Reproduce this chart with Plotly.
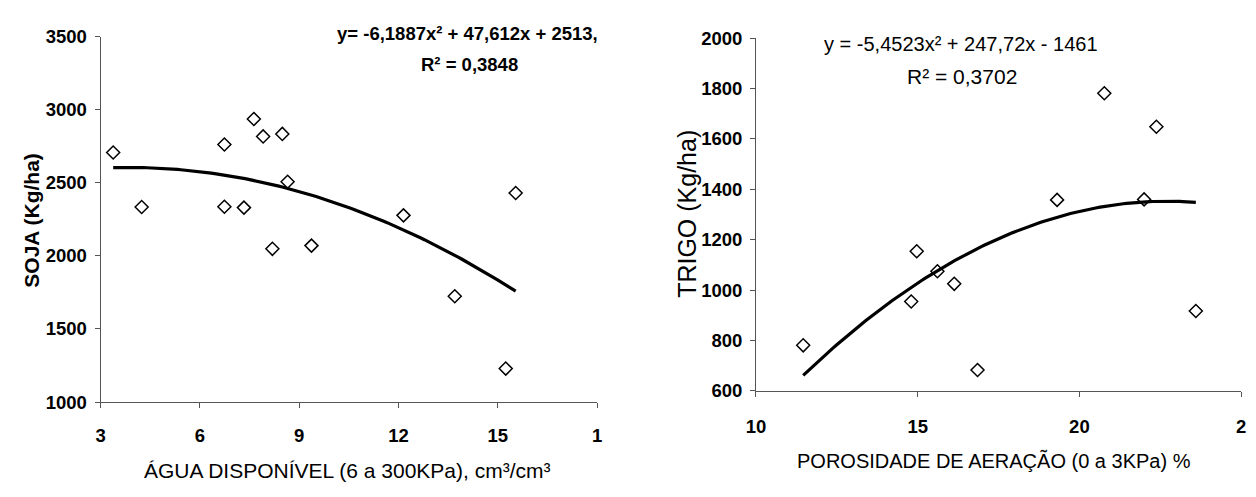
import numpy as np
import plotly.graph_objects as go

W, H = 1256, 497

# ---- data ----
soja_x = [3.38, 4.24, 6.74, 6.74, 7.33, 7.63, 7.91, 8.49, 8.65, 8.19, 9.37, 12.15, 13.70, 15.24, 15.54]
soja_y = [2707, 2334, 2762, 2336, 2330, 2936, 2817, 2834, 2507, 2048, 2070, 2277, 1724, 1229, 2430]
soja_coef = [-6.1887, 47.612, 2513]

trigo_x = [11.46, 14.80, 14.97, 15.61, 16.13, 16.85, 19.31, 20.77, 22.00, 22.38, 23.60]
trigo_y = [781, 955, 1154, 1075, 1025, 683, 1358, 1781, 1360, 1648, 917]
trigo_coef = [-5.4523, 247.72, -1461]

left_xticks = [3, 6, 9, 12, 15, 18]
left_xticktext = ["3", "6", "9", "12", "15", "1"]
left_yticks = [1000, 1500, 2000, 2500, 3000, 3500]
right_xticks = [10, 15, 20, 25]
right_xticktext = ["10", "15", "20", "2"]
right_yticks = [600, 800, 1000, 1200, 1400, 1600, 1800, 2000]

eq_left = ["y= -6,1887x² + 47,612x + 2513,", "R² = 0,3848"]
eq_right = ["y = -5,4523x² + 247,72x - 1461", "R² = 0,3702"]
title_left_x = "ÁGUA DISPONÍVEL (6 a 300KPa), cm³/cm³"
title_left_y = "SOJA (Kg/ha)"
title_right_x = "POROSIDADE DE AERAÇÃO (0 a 3KPa) %"
title_right_y = "TRIGO (Kg/ha)"


def px(x):
    return x / W


def py(y):
    return 1 - y / H


def trend(coef, xs):
    xx = np.linspace(min(xs), max(xs), 120)
    return xx, np.polyval(coef, xx)


fig = go.Figure()

marker = dict(symbol="diamond-open", size=10, color="black", line=dict(width=1.5, color="black"))

sx, sy = trend(soja_coef, soja_x)
fig.add_trace(go.Scatter(x=sx, y=sy, mode="lines", line=dict(color="black", width=3.2),
                         xaxis="x", yaxis="y", showlegend=False, hoverinfo="skip"))
fig.add_trace(go.Scatter(x=soja_x, y=soja_y, mode="markers", marker=marker,
                         xaxis="x", yaxis="y", showlegend=False, cliponaxis=False))

tx, ty = trend(trigo_coef, trigo_x)
fig.add_trace(go.Scatter(x=tx, y=ty, mode="lines", line=dict(color="black", width=3.2),
                         xaxis="x2", yaxis="y2", showlegend=False, hoverinfo="skip"))
fig.add_trace(go.Scatter(x=trigo_x, y=trigo_y, mode="markers", marker=marker,
                         xaxis="x2", yaxis="y2", showlegend=False, cliponaxis=False))

regular = "Liberation Sans, Arial, sans-serif"
tickfont = dict(family=regular, size=18.5, color="black", weight="bold")
axis_common = dict(showgrid=False, zeroline=False, showline=True, linecolor="#555", linewidth=1,
                   ticks="outside", tickcolor="#555", ticklen=5, tickfont=tickfont, fixedrange=True)

fig.update_layout(
    width=W, height=H,
    margin=dict(l=0, r=0, t=0, b=0),
    paper_bgcolor="white", plot_bgcolor="white",
    xaxis=dict(domain=[px(91.7), px(594.2)], range=[3, 18], tickvals=left_xticks, ticktext=left_xticktext,
               anchor="y", ticklabelstandoff=12, **axis_common),
    yaxis=dict(domain=[py(408.3), py(26.7)], range=[1000, 3500], tickvals=left_yticks,
               anchor="x", ticklabelstandoff=4, **axis_common),
    xaxis2=dict(domain=[px(755), px(1246)], range=[10, 25], tickvals=right_xticks, ticktext=right_xticktext,
                anchor="y2", ticklabelstandoff=14, **axis_common),
    yaxis2=dict(domain=[py(396.7), py(28.3)], range=[600, 2000], tickvals=right_yticks,
                anchor="x2", ticklabelstandoff=4, **axis_common),
)

annots = [
    # left equation (bold)
    dict(text=eq_left[0], x=px(463), y=py(24), font=dict(family=regular, size=18.5, color="black", weight="bold")),
    dict(text=eq_left[1], x=px(465.5), y=py(55.5), font=dict(family=regular, size=18.5, color="black", weight="bold")),
    # right equation
    dict(text=eq_right[0], x=px(962), y=py(34), font=dict(family=regular, size=20, color="black")),
    dict(text=eq_right[1], x=px(964), y=py(68.5), font=dict(family=regular, size=21, color="black")),
    # axis titles
    dict(text=title_left_x, x=px(341.5), y=py(480), font=dict(family=regular, size=21, color="black")),
    dict(text=title_left_y, x=px(21.7), y=py(218.5), textangle=-90,
         font=dict(family=regular, size=21, color="black", weight="bold")),
    dict(text=title_right_x, x=px(996), y=py(469), font=dict(family=regular, size=20, color="black")),
    dict(text=title_right_y, x=px(685), y=py(212), textangle=-90, font=dict(family=regular, size=25, color="black")),
]
for a in annots:
    a.update(xref="paper", yref="paper", showarrow=False, xanchor="center", yanchor="middle")
fig.update_layout(annotations=annots)

fig.write_html("out.html")
